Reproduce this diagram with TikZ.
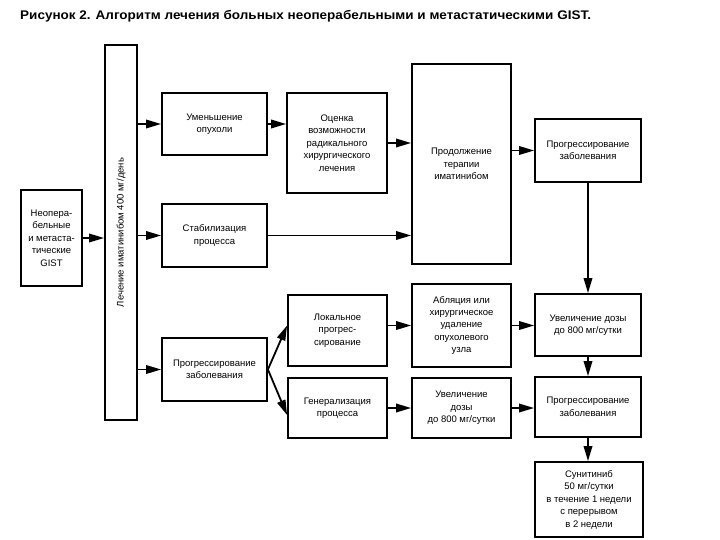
\documentclass[tikz,border=0pt]{standalone}
\usepackage{fontspec}
\setmainfont{Liberation Sans}
\usetikzlibrary{arrows.meta}
\begin{document}
\begin{tikzpicture}[x=1pt,y=-1pt,
  box/.style={draw,line width=1.8pt,inner sep=1pt,align=center,font=\fontsize{9.5}{12.5}\selectfont},
  arr/.style={line width=1.8pt,-{Triangle[length=15pt,width=8.5pt]}}]
\useasboundingbox (0,0) rectangle (720,540);
\node[anchor=base west,font=\bfseries\fontsize{12.5}{14}\selectfont,inner sep=0,xscale=1.08] (title) at (20,19.5) {Рисунок 2. Алгоритм лечения больных неоперабельными и метастатическими GIST.};
\node[box,minimum width=61pt,minimum height=96pt] (gist) at (51.5,238) {Неопера-\\бельные\\и метаста-\\тические\\GIST};
\node[box,minimum width=32pt,minimum height=375pt] (bar) at (121,232.5) {};
\node[rotate=90,font=\fontsize{9.5}{12.5}\selectfont] (bartext) at (bar.center) {Лечение иматинибом 400 мг/день};
\node[box,minimum width=105pt,minimum height=62pt] (umen) at (214.5,124) {Уменьшение\\опухоли};
\node[box,minimum width=105pt,minimum height=63pt] (stab) at (214.5,235.5) {Стабилизация\\процесса};
\node[box,minimum width=105pt,minimum height=63pt] (progL) at (214.5,369.5) {Прогрессирование\\заболевания};
\node[box,minimum width=100pt,minimum height=100pt] (ocen) at (337,143) {Оценка\\возможности\\радикального\\хирургического\\лечения};
\node[box,minimum width=99pt,minimum height=200pt] (prod) at (461.5,164) {Продолжение\\терапии\\иматинибом};
\node[box,minimum width=106pt,minimum height=63pt] (progTR) at (588,150.5) {Прогрессирование\\заболевания};
\node[box,minimum width=99pt,minimum height=71pt] (lok) at (337.5,330.5) {Локальное\\прогрес-\\сирование};
\node[box,minimum width=99pt,minimum height=83pt] (abl) at (461.5,325.5) {Абляция или\\хирургическое\\удаление\\опухолевого\\узла};
\node[box,minimum width=106pt,minimum height=62pt] (uvR) at (588,325) {Увеличение дозы\\до 800 мг/сутки};
\node[box,minimum width=99pt,minimum height=60pt] (gen) at (337.5,408) {Генерализация\\процесса};
\node[box,minimum width=99pt,minimum height=60pt] (uvM) at (461.5,408) {Увеличение\\дозы\\до 800 мг/сутки};
\node[box,minimum width=106pt,minimum height=60pt] (progBR) at (588,407) {Прогрессирование\\заболевания};
\node[box,minimum width=108pt,minimum height=75pt] (sun) at (589,499.5) {Сунитиниб\\50 мг/сутки\\в течение 1 недели\\с перерывом\\в 2 недели};
\draw[arr] (gist.east) -- (gist.east -| bar.west);
\draw[arr] (bar.east |- umen.west) -- (umen.west);
\draw[arr] (bar.east |- stab.west) -- (stab.west);
\draw[arr] (bar.east |- progL.west) -- (progL.west);
\draw[arr] (umen.east) -- (umen.east -| ocen.west);
\draw[arr] (ocen.east) -- (ocen.east -| prod.west);
\draw[arr] (stab.east) -- (stab.east -| prod.west);
\draw[arr] (prod.east |- progTR.west) -- (progTR.west);
\draw[arr] (progTR.south) -- (uvR.north);
\draw[arr] (progL.east) -- ([yshift=5pt]lok.west);
\draw[arr] (progL.east) -- ([yshift=-7pt]gen.west);
\draw[arr] (lok.east |- abl.west) -- (abl.west);
\draw[arr] (abl.east) -- (abl.east -| uvR.west);
\draw[arr] (gen.east) -- (uvM.west);
\draw[arr] (uvM.east) -- (uvM.east -| progBR.west);
\draw[arr] (uvR.south) -- (progBR.north);
\draw[arr] (progBR.south) -- (progBR.south |- sun.north);
\end{tikzpicture}
\end{document}
